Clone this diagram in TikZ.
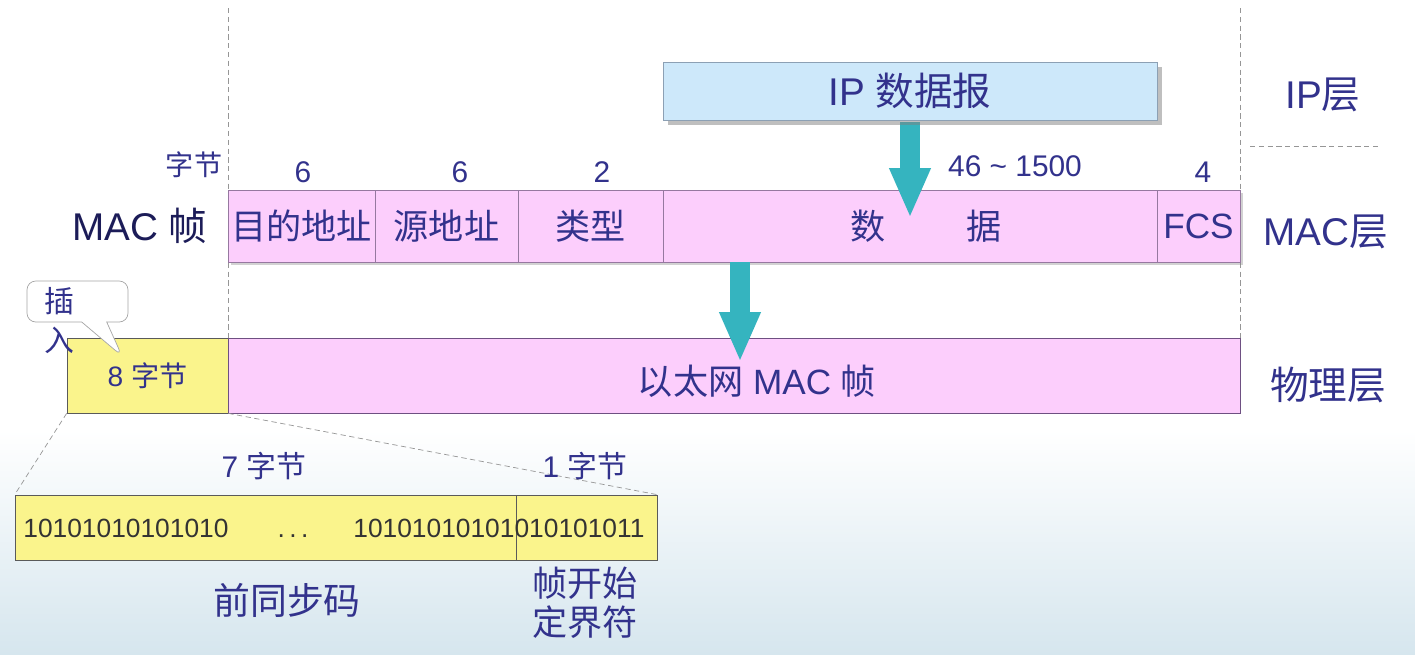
\documentclass[tikz,border=0pt]{standalone}
\usepackage{fontspec}
\setmainfont{Liberation Sans}
\newfontfamily\cjk{Noto Sans CJK SC}
\usetikzlibrary{arrows.meta}
\usetikzlibrary{shapes.callouts}
\usetikzlibrary{shadows}

\definecolor{navy}{RGB}{50,50,140}
\definecolor{darknavy}{RGB}{28,28,88}
\definecolor{framepink}{RGB}{252,206,252}
\definecolor{pinkedge}{RGB}{150,120,160}
\definecolor{ethedge}{RGB}{110,80,130}
\definecolor{padyellow}{RGB}{250,244,140}
\definecolor{padedge}{RGB}{90,90,90}
\definecolor{ipblue}{RGB}{205,232,250}
\definecolor{ipedge}{RGB}{140,160,180}
\definecolor{arrowteal}{RGB}{53,180,191}
\definecolor{guidegray}{RGB}{150,150,150}
\definecolor{bgblue}{RGB}{214,230,238}

\tikzset{
  lbl/.style={text=navy, inner sep=0pt},
  guide/.style={guidegray, dashed, dash pattern=on 3pt off 2pt},
  field/.style={draw=pinkedge, fill=framepink, inner sep=0pt, minimum height=1.44cm,
    text=navy, font=\fontsize{20}{24}\selectfont,
    drop shadow={shadow xshift=1.5pt, shadow yshift=-1.5pt, opacity=.35}},
  ipbox/.style={draw=ipedge, fill=ipblue, inner sep=0pt, minimum width=9.88cm, minimum height=1.16cm,
    text=navy, font=\fontsize{22}{26}\selectfont,
    drop shadow={shadow xshift=3pt, shadow yshift=-3pt, opacity=.5}},
  padbox/.style={draw=padedge, fill=padyellow, inner sep=0pt, text=navy},
  ethbox/.style={draw=ethedge, fill=framepink, inner sep=0pt},
  bits/.style={inner sep=0pt, text=black!80, font=\fontsize{15}{18}\selectfont},
  bigarrow/.style={arrowteal, line width=0.4cm, -{Triangle[length=1cm, width=0.76cm]}},
  insertnote/.style={rectangle callout, draw=gray!70, fill=white, rounded corners=5pt,
    minimum width=2.02cm, minimum height=0.82cm, callout pointer width=0.5cm}
}

\begin{document}
\begin{tikzpicture}[x=0.02cm, y=-0.02cm]
  \useasboundingbox (0,0) rectangle (1415,654);
  \fill[white] (0,0) rectangle (1415,654);
  \shade[top color=white, bottom color=bgblue] (0,430) rectangle (1415,654);

  % layer guides
  \draw[guide] (228,8) -- (228,338);
  \draw[guide] (1240,8) -- (1240,338);
  \draw[guide] (1250,146) -- (1380,146);

  % MAC frame
  \node[field, minimum width=2.94cm] (dst) at (301.5,226) {{\cjk 目的地址}};
  \node[field, minimum width=2.86cm] (src) at (446.5,226) {{\cjk 源地址}};
  \node[field, minimum width=2.90cm] (type) at (590.5,226) {{\cjk 类型}};
  \node[field, minimum width=9.88cm] (data) at (910,226) {};
  \node[field, minimum width=1.66cm] (fcs) at (1198.5,226) {FCS};
  \node[lbl, font=\fontsize{20}{24}\selectfont] (datatxt) at (926,226) {{\cjk 数}\hspace{1.62cm}{\cjk 据}};

  \node[lbl, font=\fontsize{16}{19}\selectfont] (unit) at (194,165) {{\cjk 字节}};
  \node[lbl, font=\fontsize{17}{20}\selectfont] (ndst) at (303,172) {6};
  \node[lbl, font=\fontsize{17}{20}\selectfont] (nsrc) at (460,172) {6};
  \node[lbl, font=\fontsize{17}{20}\selectfont] (ntype) at (602,172) {2};
  \node[lbl, font=\fontsize{17}{20}\selectfont] (ndata) at (1015,166) {46 \textasciitilde\ 1500};
  \node[lbl, font=\fontsize{17}{20}\selectfont] (nfcs) at (1203,172) {4};
  \node[lbl, text=darknavy, font=\fontsize{22}{26}\selectfont] (macname) at (140,226) {MAC {\cjk 帧}};

  % IP datagram
  \coordinate (iptip) at (910,218);
  \draw[bigarrow] (910,122) -- (iptip);
  \node[ipbox] (ip) at (910,91) {IP {\cjk 数据报}};

  % physical layer
  \node[padbox, minimum width=3.22cm, minimum height=1.5cm, font=\fontsize{16}{19}\selectfont] (pre8) at (147.5,375.5) {8 {\cjk 字节}};
  \node[ethbox, minimum width=20.24cm, minimum height=1.5cm] (eth) at (734,375.5) {};
  \node[lbl, font=\fontsize{20}{24}\selectfont] (ethtxt) at (757,381) {{\cjk 以太网} MAC {\cjk 帧}};
  \coordinate (ethtip) at (740,362);
  \draw[bigarrow] (data.south -| ethtip) -- (ethtip);

  \node[insertnote, callout absolute pointer={(122,356)}] (ins) at (77.5,301.5) {};
  \node[lbl, align=left, font=\fontsize{17}{22}\selectfont] (instxt) at (59,320.5) {{\cjk 插}\\{\cjk 入}};

  % layer names
  \node[lbl, font=\fontsize{22}{26}\selectfont] (iplayer) at (1323,95) {IP{\cjk 层}};
  \node[lbl, font=\fontsize{22}{26}\selectfont] (maclayer) at (1326,232) {MAC{\cjk 层}};
  \node[lbl, font=\fontsize{22}{26}\selectfont] (phylayer) at (1328,385) {{\cjk 物理层}};

  % preamble
  \node[padbox, minimum width=10.02cm, minimum height=1.3cm] (preamble) at (265.5,527.5) {};
  \node[padbox, minimum width=2.82cm, minimum height=1.3cm] (sfd) at (586.5,527.5) {};
  \draw[guide] (pre8.south west) -- (preamble.north west);
  \draw[guide] (pre8.south east) -- (sfd.north east);
  \node[bits, anchor=base west] (bitsa) at (23,537.5) {10101010101010};
  \node[bits, anchor=base] (dots) at (293,537.5) {.\,.\,.};
  \node[bits, anchor=base west] (bitsb) at (353,537.5) {10101010101010101011};

  \node[lbl, font=\fontsize{17}{20}\selectfont] (n7) at (264,466) {7 {\cjk 字节}};
  \node[lbl, font=\fontsize{17}{20}\selectfont] (n1) at (585,466) {1 {\cjk 字节}};
  \node[lbl, font=\fontsize{21}{25}\selectfont] (prename) at (287,600) {{\cjk 前同步码}};
  \node[lbl, align=center, font=\fontsize{20}{22}\selectfont] (sfdname) at (585,603) {{\cjk 帧开始}\\{\cjk 定界符}};
\end{tikzpicture}
\end{document}
